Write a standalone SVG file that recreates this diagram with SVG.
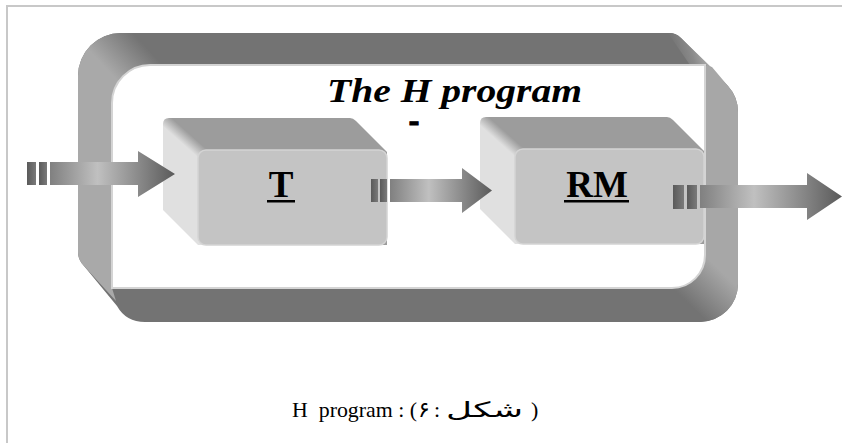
<svg xmlns="http://www.w3.org/2000/svg" xmlns:xlink="http://www.w3.org/1999/xlink" width="842" height="443" viewBox="0 0 842 443">
<style>
.frame{stroke:#c8c8c8;stroke-width:2;fill:none}
.dark{fill:#737373}
.face-front{fill:#c4c4c4;stroke:#d4d4d4;stroke-width:1.5}
.lbl{font-family:"Liberation Serif","Times New Roman",serif;font-weight:bold;font-size:37px;fill:#000;text-anchor:middle}
.title{font-family:"Liberation Serif","Times New Roman",serif;font-weight:bold;font-style:italic;font-size:34px;fill:#000}
.cap{font-family:"Liberation Serif","Times New Roman",serif;font-size:22px;fill:#000}
.capar{font-family:"DejaVu Sans","Noto Sans",sans-serif;fill:#000}
.arrow{fill:url(#arrGrad)}
.bar{fill:url(#barGrad)}
</style>
<defs>
<linearGradient id="arrGrad" x1="0" y1="0" x2="1" y2="0">
<stop offset="0" stop-color="#808080"/>
<stop offset="0.38" stop-color="#c0c0c0"/>
<stop offset="1" stop-color="#5a5a5a"/>
</linearGradient>
<linearGradient id="barGrad" x1="0" y1="0" x2="1" y2="0">
<stop offset="0" stop-color="#5a5a5a"/>
<stop offset="1" stop-color="#7a7a7a"/>
</linearGradient>
<linearGradient id="leftBand" gradientUnits="userSpaceOnUse" x1="98" y1="60" x2="130" y2="30">
<stop offset="0" stop-color="#a9a9a9"/>
<stop offset="1" stop-color="#737373"/>
</linearGradient>
<linearGradient id="rightBand" gradientUnits="userSpaceOnUse" x1="722" y1="272" x2="690" y2="305">
<stop offset="0" stop-color="#a7a7a7"/>
<stop offset="1" stop-color="#737373"/>
</linearGradient>
<linearGradient id="foldTR" gradientUnits="userSpaceOnUse" x1="672" y1="48" x2="700" y2="40">
<stop offset="0" stop-color="#737373"/>
<stop offset="0.6" stop-color="#8a8a8a"/>
<stop offset="1" stop-color="#a5a5a5"/>
</linearGradient>
<linearGradient id="bevel" gradientUnits="userSpaceOnUse" x1="176" y1="138" x2="184" y2="129">
<stop offset="0" stop-color="#e0e0e0"/>
<stop offset="1" stop-color="#9c9c9c"/>
</linearGradient>
<g id="box">
<path d="M163,124 Q163,118 169,118 L350,118 Q353,118 356,121 L387,152 L387,245 L198,245 L163,210 Z" fill="url(#bevel)"/>
<rect class="face-front" x="198" y="150" width="189" height="95" rx="8"/>
</g>
</defs>

<g id="frame">
<line class="frame" x1="6" y1="6" x2="842" y2="6"/>
<line class="frame" x1="7" y1="5" x2="7" y2="443"/>
</g>

<g id="ribbon">
<path class="dark" d="M121,33 H670 Q676,33 681,38 L728,86 Q738,97 738,112 V284 A38,38 0 0 1 700,322 H145 Q126,322 117,306 L84,266 Q78,260 78,252 V76 A43,43 0 0 1 121,33 Z"/>
<path fill="url(#leftBand)" d="M78,252 V76 A43,43 0 0 1 121,33 H165 V65 H150 A38,38 0 0 0 112,103 V288 L116,301 L84,266 Q78,260 78,252 Z"/>
<path fill="url(#rightBand)" d="M705,65 L712,67 L728,86 Q738,97 738,112 V284 A38,38 0 0 1 700,322 H655 V288 H672 A33,33 0 0 0 705,255 Z"/>
<path fill="url(#foldTR)" d="M668,33 Q676,33 681,38 L712,68 L705,65 L690,65 Z"/>
<path d="M150,65 H705 V255 A33,33 0 0 1 672,288 H112 V103 A38,38 0 0 1 150,65 Z" fill="#ffffff" stroke="#d4d4d4" stroke-width="2"/>
</g>

<g id="title">
<text class="title" x="327" y="102" textLength="255" lengthAdjust="spacingAndGlyphs">The H program</text>
<text class="lbl" x="414" y="131.5" font-size="20" stroke="#000" stroke-width="0.8" textLength="11" lengthAdjust="spacingAndGlyphs">-</text>
</g>

<g id="node-T">
<use xlink:href="#box"/>
<text class="lbl" x="281" y="197">T</text>
<rect x="267" y="200" width="28" height="2.5" fill="#000"/>
</g>

<g id="node-RM">
<use xlink:href="#box" transform="translate(317,-1)"/>
<text class="lbl" x="597" y="197">RM</text>
<rect x="564" y="200" width="65" height="2.5" fill="#000"/>
</g>

<g id="connectors">
<g id="arrow-in">
<rect class="bar" x="27" y="162" width="9" height="23"/>
<rect class="bar" x="39" y="162" width="8" height="23"/>
<path class="arrow" d="M50,162 H138 V151 L175,174 L138,197 V185 H50 Z"/>
</g>
<g id="arrow-T-RM">
<rect class="bar" x="371" y="179" width="7" height="23"/>
<rect class="bar" x="380" y="179" width="7" height="23"/>
<path class="arrow" d="M390,179 H462 V168 L492,190.5 L462,213 V202 H390 Z"/>
</g>
<g id="arrow-out">
<rect class="bar" x="673" y="185" width="11" height="24"/>
<rect class="bar" x="687" y="185" width="10" height="24"/>
<path class="arrow" d="M700,185 H807 V173 L842,196.5 L807,220 V208 H700 Z"/>
</g>
</g>

<g id="caption">
<text class="cap" x="292" y="417" xml:space="preserve" textLength="125" lengthAdjust="spacingAndGlyphs">H  program : (</text>
<text class="capar" x="418" y="417" font-size="22">۶</text>
<text class="cap" x="434" y="417">:</text>
<text class="capar" x="446" y="417" font-size="21" textLength="77" lengthAdjust="spacingAndGlyphs">شکل</text>
<text class="cap" x="531" y="417">)</text>
</g>
</svg>
